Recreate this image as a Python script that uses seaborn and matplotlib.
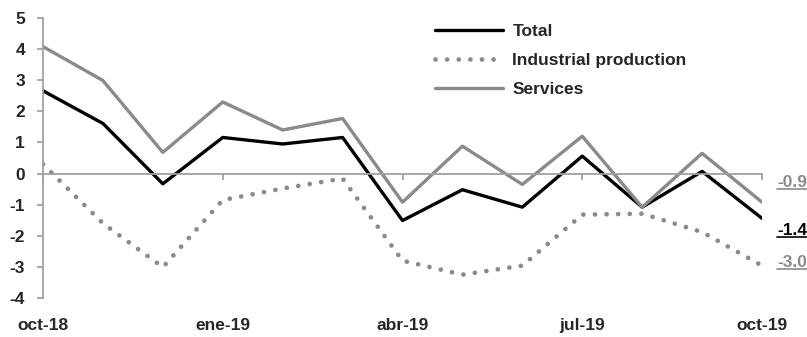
import matplotlib
matplotlib.use("Agg")
import matplotlib.pyplot as plt
import matplotlib.lines as mlines
import seaborn as sns
import pandas as pd
import numpy as np

months = ["oct-18", "nov-18", "dic-18", "ene-19", "feb-19", "mar-19", "abr-19",
          "may-19", "jun-19", "jul-19", "ago-19", "sep-19", "oct-19"]
total = [2.66, 1.61, -0.33, 1.16, 0.95, 1.16, -1.51, -0.52, -1.08, 0.56, -1.08, 0.07, -1.44]
industrial = [0.30, -1.60, -3.01, -0.85, -0.48, -0.16, -2.80, -3.25, -2.96, -1.32, -1.29, -1.88, -2.96]
services = [4.08, 2.99, 0.68, 2.30, 1.40, 1.77, -0.92, 0.88, -0.35, 1.20, -1.08, 0.65, -0.92]
series_names = ["Total", "Industrial production", "Services"]
end_labels = ["-1.4", "-3.0", "-0.9"]
tick_labels = ["oct-18", "ene-19", "abr-19", "jul-19", "oct-19"]
tick_pos = [0, 3, 6, 9, 12]
yticks = [-4, -3, -2, -1, 0, 1, 2, 3, 4, 5]

sns.set_style("white")
plt.rcParams["font.family"] = ["Liberation Sans", "DejaVu Sans"]
plt.rcParams["font.weight"] = "bold"

FS = 12.5

df = pd.DataFrame({"x": np.arange(len(months)), "Total": total,
                   "Industrial production": industrial, "Services": services})

fig = plt.figure(figsize=(8.07, 3.37), dpi=100)
ax = fig.add_axes([43 / 807, 39 / 337, 719 / 807, 280 / 337])

GRAY = "#8a8a8a"
AX_GRAY = "#a0a0a0"

sns.lineplot(data=df, x="x", y="Total", ax=ax, color="black", lw=2.4, label="Total")
sns.lineplot(data=df, x="x", y="Industrial production", ax=ax, color=GRAY, lw=3.4,
             label="Industrial production")
ax.lines[-1].set_linestyle((0, (0.01, 2.45)))
ax.lines[-1].set_dash_capstyle("round")
sns.lineplot(data=df, x="x", y="Services", ax=ax, color=GRAY, lw=2.4, label="Services")

ax.set_xlim(0, 12)
ax.set_ylim(-4, 5)
ax.set_xlabel("")
ax.set_ylabel("")

for s in ["top", "right"]:
    ax.spines[s].set_visible(False)
ax.spines["bottom"].set_position(("data", 0))
ax.spines["bottom"].set_color(AX_GRAY)
ax.spines["bottom"].set_linewidth(1.3)
ax.spines["left"].set_color(AX_GRAY)
ax.spines["left"].set_linewidth(1.3)

ax.set_yticks(yticks)
ax.set_yticklabels([str(v) for v in yticks], fontsize=FS, fontweight="bold")
ax.set_xticks(tick_pos)
ax.set_xticklabels(tick_labels, fontsize=FS, fontweight="bold")
ax.tick_params(axis="y", direction="out", length=4, width=1.3, color=AX_GRAY, pad=9, left=True)
ax.tick_params(axis="x", direction="out", length=4, width=1.3, color=AX_GRAY, pad=100, bottom=True)

leg = ax.legend(loc="upper left", bbox_to_anchor=(435 / 807, 1 - 24 / 337),
                bbox_transform=fig.transFigure, frameon=False, fontsize=FS,
                handlelength=3.9, handletextpad=0.55, labelspacing=0.8,
                borderpad=0, borderaxespad=0)
for t in leg.get_texts():
    t.set_fontweight("bold")
leg.get_lines()[1].set_linestyle((0, (0.01, 2.45)))
leg.get_lines()[1].set_dash_capstyle("round")

last = len(months) - 1
vals = [total[last], industrial[last], services[last]]
colors = ["black", GRAY, GRAY]
offsets = [-9, 2, 14]
texts = []
for lab, v, c, off in zip(end_labels, vals, colors, offsets):
    t = ax.annotate(lab, xy=(12, v), xytext=(11, off),
                    textcoords="offset points", color=c, fontsize=FS, fontweight="bold",
                    va="center", ha="left", annotation_clip=False)
    texts.append((t, c))

fig.canvas.draw()
r = fig.canvas.get_renderer()
inv = fig.transFigure.inverted()
for t, c in texts:
    bb = t.get_window_extent(r)
    (x0, y0), (x1, y1) = inv.transform([[bb.x0, bb.y0 + 1.5], [bb.x1, bb.y0 + 1.5]])
    fig.add_artist(mlines.Line2D([x0, x1], [y0, y1], color=c, lw=1.2,
                                 transform=fig.transFigure))

fig.savefig("out.png", dpi=100)
